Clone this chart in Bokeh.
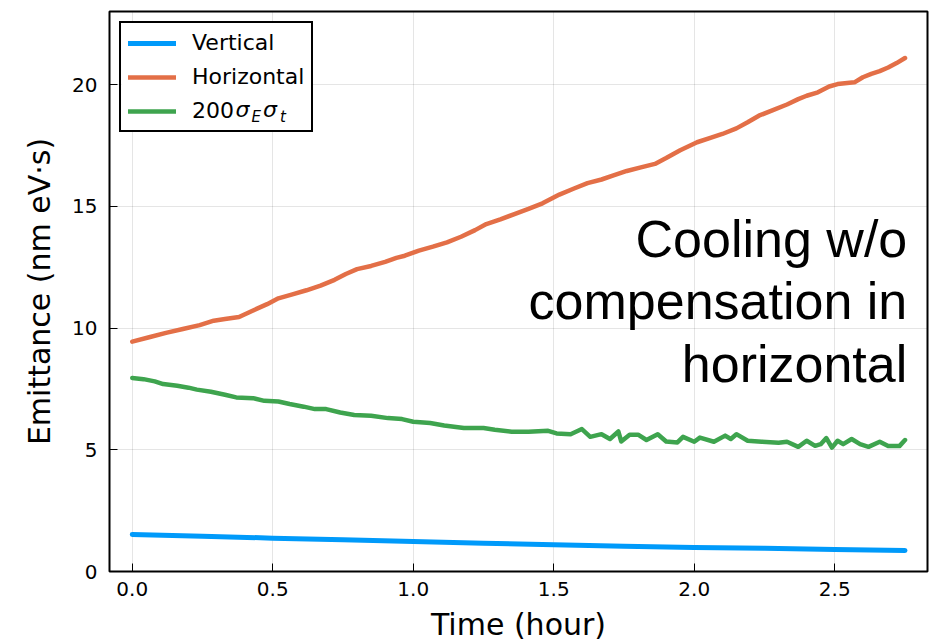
from bokeh.plotting import figure
from bokeh.models import Range1d, FixedTicker, Legend, LegendItem, Label, PrintfTickFormatter, BoxAnnotation
from bokeh.embed import file_html
from bokeh.resources import INLINE

# ---------------- data ----------------
t_vertical = [0.00, 0.25, 0.50, 0.75, 1.00, 1.25, 1.50, 1.75, 2.00, 2.25, 2.50, 2.75]
vertical = [1.52, 1.45, 1.37, 1.30, 1.23, 1.16, 1.10, 1.04, 0.99, 0.95, 0.90, 0.86]

t_horizontal = [0.00, 0.06, 0.12, 0.18, 0.24, 0.29, 0.33, 0.38, 0.43, 0.48, 0.52, 0.57,
                0.62, 0.67, 0.72, 0.76, 0.80, 0.85, 0.90, 0.94, 0.97, 1.02, 1.07, 1.12,
                1.17, 1.22, 1.26, 1.31, 1.36, 1.41, 1.46, 1.52, 1.57, 1.62, 1.67, 1.71,
                1.76, 1.81, 1.86, 1.90, 1.95, 2.01, 2.06, 2.10, 2.15, 2.19, 2.23, 2.28,
                2.33, 2.37, 2.40, 2.44, 2.48, 2.51, 2.57, 2.60, 2.63, 2.66, 2.69, 2.72, 2.75]
horizontal = [9.44, 9.62, 9.80, 9.96, 10.12, 10.30, 10.37, 10.45, 10.72, 10.98, 11.22, 11.38,
              11.55, 11.74, 11.98, 12.22, 12.42, 12.55, 12.72, 12.88, 12.97, 13.18, 13.34, 13.52,
              13.75, 14.02, 14.27, 14.46, 14.68, 14.89, 15.12, 15.48, 15.72, 15.95, 16.10, 16.26,
              16.45, 16.60, 16.74, 16.98, 17.30, 17.63, 17.82, 17.97, 18.20, 18.45, 18.72, 18.95,
              19.18, 19.40, 19.54, 19.68, 19.92, 20.02, 20.09, 20.30, 20.44, 20.55, 20.70, 20.88, 21.09]

t_bunch = [0.00, 0.04, 0.08, 0.11, 0.16, 0.20, 0.23, 0.28, 0.33, 0.37, 0.43, 0.47, 0.52,
           0.56, 0.61, 0.65, 0.69, 0.74, 0.79, 0.85, 0.91, 0.96, 1.00, 1.06, 1.11, 1.18,
           1.25, 1.29, 1.35, 1.41, 1.48, 1.51, 1.56, 1.60, 1.63, 1.67, 1.70, 1.73, 1.74,
           1.77, 1.80, 1.83, 1.87, 1.90, 1.94, 1.96, 2.00, 2.02, 2.07, 2.11, 2.13, 2.15,
           2.19, 2.24, 2.30, 2.33, 2.37, 2.40, 2.43, 2.45, 2.47, 2.49, 2.51, 2.53, 2.56,
           2.59, 2.62, 2.66, 2.69, 2.73, 2.75]
bunch = [7.95, 7.90, 7.81, 7.70, 7.63, 7.55, 7.47, 7.38, 7.26, 7.15, 7.12, 7.01, 6.98,
         6.88, 6.77, 6.67, 6.67, 6.53, 6.43, 6.40, 6.30, 6.26, 6.15, 6.10, 6.00, 5.89,
         5.89, 5.82, 5.74, 5.74, 5.78, 5.67, 5.64, 5.85, 5.53, 5.64, 5.44, 5.75, 5.34,
         5.62, 5.62, 5.40, 5.64, 5.34, 5.30, 5.53, 5.33, 5.50, 5.33, 5.58, 5.44, 5.64,
         5.37, 5.33, 5.29, 5.33, 5.12, 5.37, 5.16, 5.23, 5.48, 5.09, 5.37, 5.23, 5.44,
         5.23, 5.12, 5.33, 5.15, 5.15, 5.40]

x_ticks = [0.0, 0.5, 1.0, 1.5, 2.0, 2.5]
y_ticks = [0, 5, 10, 15, 20]
series_labels = ["Vertical", "Horizontal", "200"]
annotation_lines = ["Cooling w/o", "compensation in", "horizontal"]

# ---------------- figure ----------------
p = figure(width=940, height=644, output_backend="svg", toolbar_location=None,
           x_range=Range1d(-0.081, 2.830), y_range=Range1d(0, 23.0),
           min_border_left=109, min_border_right=13, min_border_top=11, min_border_bottom=73,
           background_fill_color="white", border_fill_color="white")

p.outline_line_color = "black"
p.outline_line_width = 2
p.outline_line_alpha = 1

for ax in (p.xaxis[0], p.yaxis[0]):
    ax.axis_line_color = None
    ax.major_tick_in = 8
    ax.major_tick_out = 0
    ax.major_tick_line_color = "black"
    ax.major_tick_line_width = 1
    ax.minor_tick_line_color = None
    ax.major_label_text_font = "DejaVu Sans"
    ax.major_label_text_font_size = "20px"
    ax.major_label_text_color = "black"
    ax.axis_label_text_font = "DejaVu Sans"
    ax.axis_label_text_font_style = "normal"
    ax.axis_label_text_color = "black"
    ax.axis_label_text_font_size = "30px"

p.xaxis.ticker = FixedTicker(ticks=x_ticks)
p.yaxis.ticker = FixedTicker(ticks=y_ticks)
p.xaxis.formatter = PrintfTickFormatter(format="%.1f")
p.yaxis.formatter = PrintfTickFormatter(format="%d")
p.xaxis.axis_label = "Time (hour)"
p.yaxis.axis_label = "Emittance (nm eV·s)"
p.xaxis.major_label_standoff = 10
p.yaxis.major_label_standoff = 12
p.xaxis.axis_label_standoff = 8
p.yaxis.axis_label_standoff = 12

p.xgrid.ticker = FixedTicker(ticks=x_ticks)
p.ygrid.ticker = FixedTicker(ticks=y_ticks)
for g in (p.xgrid[0], p.ygrid[0]):
    g.grid_line_color = "black"
    g.grid_line_alpha = 0.1
    g.grid_line_width = 1

# white backing of the legend box (hides the grid under the legend)
p.add_layout(BoxAnnotation(left=-0.038, right=0.636, top=22.55, bottom=18.11,
                           fill_color="white", fill_alpha=1, line_color=None, level="underlay"))

lw = 4.5
r_v = p.line(t_vertical, vertical, line_color="#009AFA", line_width=5, line_join="round", line_cap="round")
r_h = p.line(t_horizontal, horizontal, line_color="#E36F47", line_width=lw, line_join="round", line_cap="round")
r_b = p.line(t_bunch, bunch, line_color="#3EA44E", line_width=lw, line_join="round", line_cap="round")

legend = Legend(items=[LegendItem(label=series_labels[0], renderers=[r_v]),
                       LegendItem(label=series_labels[1], renderers=[r_h]),
                       LegendItem(label=series_labels[2], renderers=[r_b])],
                location="top_left", margin=10, padding=7, spacing=9,
                glyph_width=48, glyph_height=20, label_height=20, label_standoff=16,
                label_text_font="DejaVu Sans", label_text_font_size="22px",
                label_text_color="black",
                border_line_color="black", border_line_width=2, border_line_alpha=1,
                background_fill_alpha=0)
p.add_layout(legend)

# subscript math parts of the third legend label: sigma_E sigma_t
for txt, xx, yy, fs in [("σ", 0.367, 18.97, "22px"), ("E", 0.424, 18.66, "15px"),
                         ("σ", 0.465, 18.97, "22px"), ("t", 0.526, 18.66, "15px")]:
    p.add_layout(Label(x=xx, y=yy, text=txt,
                       text_font="DejaVu Sans", text_font_style="italic",
                       text_font_size=fs, text_color="black", text_baseline="alphabetic"))

for txt, yy in zip(annotation_lines, [13.66, 11.13, 8.53]):
    p.add_layout(Label(x=2.758, y=yy, text=txt, text_align="right", text_baseline="alphabetic",
                       text_font="Liberation Sans", text_font_size="52px", text_color="black"))

open("out.html", "w").write(file_html(p, INLINE))
